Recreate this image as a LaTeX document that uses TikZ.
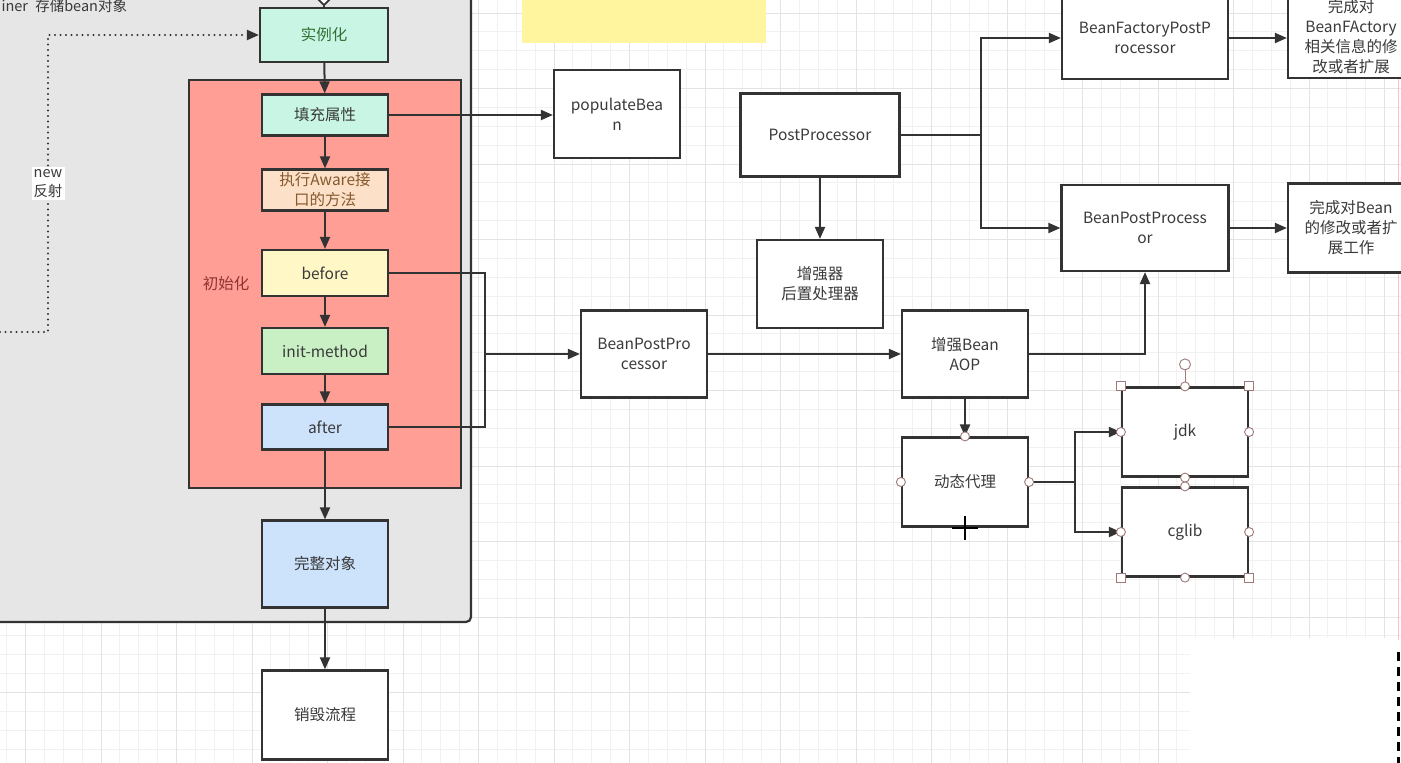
\documentclass[tikz,border=0pt]{standalone}
\usepackage{fontspec}
\setmainfont{Noto Sans CJK SC}
\usetikzlibrary{shapes.geometric, arrows.meta}
\definecolor{edge}{HTML}{333333}
\definecolor{txt}{HTML}{3A3A3A}
\definecolor{mint}{HTML}{C8F5E4}
\definecolor{peach}{HTML}{FCE0C8}
\definecolor{lemon}{HTML}{FFF8C6}
\definecolor{leaf}{HTML}{C9F0C4}
\definecolor{sky}{HTML}{CDE2FB}
\definecolor{salmon}{HTML}{FF9E94}
\definecolor{panel}{HTML}{E6E6E6}
\definecolor{note}{HTML}{FFF59E}
\definecolor{minor}{HTML}{F1F1F1}
\definecolor{major}{HTML}{E3E3E3}
\definecolor{pick}{HTML}{9E7A7A}
\tikzstyle{box} = [rectangle, minimum width=126pt, minimum height=88pt, text width=126pt, inner sep=0pt, text centered, draw=edge, line width=2.2pt, fill=white, text=txt]
\tikzstyle{stage} = [box, minimum height=44pt]
\tikzstyle{arrow} = [line width=2pt, draw=edge, -{Triangle[length=12pt,width=10pt]}]
\tikzstyle{line} = [line width=2pt, draw=edge]
\tikzstyle{dotarrow} = [line width=2.2pt, draw=edge, line cap=round, dash pattern=on 0pt off 5.5pt, -{Triangle[length=12pt,width=10pt]}]
\tikzstyle{handle} = [draw=pick, fill=white, line width=0.9pt]

\begin{document}
\begin{tikzpicture}[x=1pt, y=-1pt, font=\fontsize{15.5}{20}\selectfont]
\useasboundingbox (0,0) rectangle (1401,763);
\clip (0,0) rectangle (1401,763);
% grid
\fill[white] (0,0) rectangle (1401,763);
\foreach \i in {0,...,74} \draw[minor, line width=0.8pt] (6.625+18.875*\i,0) -- (6.625+18.875*\i,763);
\foreach \i in {0,...,40} \draw[minor, line width=0.8pt] (0,13+18.875*\i) -- (1401,13+18.875*\i);
\foreach \i in {0,...,18} \draw[major, line width=1pt] (25.5+75.5*\i,0) -- (25.5+75.5*\i,763);
\foreach \i in {0,...,10} \draw[major, line width=1pt] (0,13+75.5*\i) -- (1401,13+75.5*\i);
\fill[white] (1190,638) rectangle (1401,763);
\draw[red!25, line width=1pt] (1398,0) -- (1398,640);
\draw[black, line width=3pt, dash pattern=on 9pt off 6pt] (1398,652) -- (1398,763);

% containers
\draw[fill=panel, draw=edge, line width=2.2pt, rounded corners=5pt] (-10,-10) rectangle (471,622);
\node (c0) [anchor=west, text=txt, font=\fontsize{14.5}{17}\selectfont] at (-2,6) {iner\enspace 存储bean对象};
\fill[note] (522,0) rectangle (766,43);
\node (c1) [rectangle, minimum width=272pt, minimum height=408pt, draw=edge, line width=2.2pt, fill=salmon] at (325,284) {};
\node (c2) [text=red!45!black!80] at (226,284) {初始化};

% life cycle
\node (0) [diamond, draw=edge, fill=white, line width=1.8pt, minimum size=15pt, inner sep=0pt] at (324,-2) {};
\node (1) [stage, minimum height=54pt, minimum width=128pt, fill=mint, text=green!30!black!80] at (324,35) {实例化};
\node (2) [stage, minimum height=41pt, fill=mint] at (325,115) {填充属性};
\node (3) [stage, minimum height=41pt, fill=peach, text=brown!70!black] at (325,190) {执行Aware接\\口的方法};
\node (4) [stage, minimum height=46pt, fill=lemon] at (325,273) {before};
\node (5) [stage, minimum height=46pt, fill=leaf] at (325,351) {init-method};
\node (6) [stage, minimum height=45pt, fill=sky] at (325,427) {after};
\node (7) [box, minimum height=87pt, fill=sky] at (325,564) {完整对象};
\node (8) [box, minimum height=89pt] at (325,715) {销毁流程};

% processors
\node (9) [box] at (617,114) {populateBea\\n};
\node (10) [box, minimum height=87pt] at (644,354) {BeanPostPro\\cessor};
\node (11) [box, minimum width=159pt, text width=159pt, minimum height=83pt] at (820,135) {PostProcessor};
\node (12) [box] at (820,284) {增强器\\后置处理器};
\node (13) [box, minimum height=87pt] at (965,354) {增强Bean\\AOP};
\node (14) [box, minimum height=89pt] at (965,482) {动态代理};
\node (15) [box, minimum height=89pt] at (1185,432) {jdk};
\node (16) [box, minimum height=89pt] at (1185,532) {cglib};
\node (17) [box, minimum width=166pt, text width=166pt, minimum height=82pt] at (1145,38) {BeanFactoryPostP\\rocessor};
\node (18) [box, minimum width=167pt, text width=167pt, minimum height=86pt] at (1145,228) {BeanPostProcess\\or};
\node (19) [box, minimum height=82pt] at (1351,37) {完成对\\BeanFActory\\相关信息的修\\改或者扩展};
\node (20) [box, minimum height=89pt] at (1351,228) {完成对Bean\\的修改或者扩\\展工作};

% connectors
\draw[line] (0) -- (1);
\draw[arrow] (1) -- (2);
\draw[arrow] (2) -- (3);
\draw[arrow] (3) -- (4);
\draw[arrow] (4) -- (5);
\draw[arrow] (5) -- (6);
\draw[arrow] (6) -- (7);
\draw[arrow] (7) -- (8);
\draw[arrow] (2.east) -- (2.east -| 9.west);
\coordinate (j) at (485,354);
\draw[line] (4.east) -| (j) |- (6.east);
\draw[arrow] (j) -- (10.west);
\draw[arrow] (10) -- (13);
\draw[arrow] (11) -- (12);
\coordinate (k) at (981,135);
\draw[line] (11.east) -- (k);
\draw[arrow] (k) |- (17.west);
\draw[arrow] (k) |- (18.west);
\draw[arrow] (17.east) -- (17.east -| 19.west);
\draw[arrow] (18) -- (20);
\draw[arrow] (13.east) -| (18.south);
\draw[arrow] (13) -- (14);
\coordinate (m) at (1075,482);
\draw[line] (14.east) -- (m);
\draw[arrow] (m) |- (15.west);
\draw[arrow] (m) |- (16.west);
\coordinate (d0) at (0,332);
\coordinate (d1) at (48,332);
\draw[dotarrow] (d0) -- (d1) -- node (21) [fill=white, text=txt, inner sep=2pt, align=center, font=\fontsize{14.5}{19}\selectfont] {new\\反射} (d1 |- 1.west) -- (1.west);

% selection handles
\draw[pick, line width=0.9pt] (15.north) -- ++(0,-22) coordinate (r);
\draw[handle] (r) circle (5.5pt);
\foreach \p in {15.north, 15.west, 15.east, 15.south, 16.north, 16.west, 16.east, 16.south, 14.north, 14.west, 14.east}
  \draw[handle] (\p) circle (4.5pt);
\foreach \p in {15.north west, 15.north east, 16.south west, 16.south east}
  \draw[handle] (\p) ++(-4.5,-4.5) rectangle ++(9,9);
\draw[black, line width=2pt] (14.south) ++(-13,0) -- ++(26,0);
\draw[black, line width=2pt] (14.south) ++(0,-12) -- ++(0,24);
\end{tikzpicture}
\end{document}
